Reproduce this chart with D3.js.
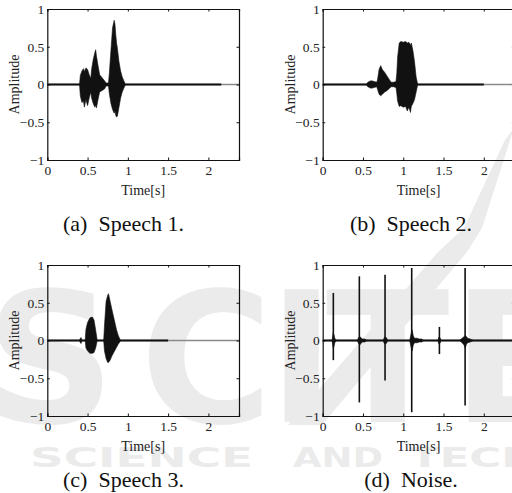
<!DOCTYPE html>
<html>
<head>
<meta charset="utf-8">
<script src="https://cdn.jsdelivr.net/npm/d3@7"></script>
<style>
  html, body { margin: 0; padding: 0; background: #fff; overflow: hidden; }
  svg { display: block; }
</style>
</head>
<body>
<svg id="chart" width="512" height="493"></svg>
<script>
// ---------- DATA ----------
const xTicks = [0, 0.5, 1, 1.5, 2];
const yTicks = [-1, -0.5, 0, 0.5, 1];
const xMax = 2.38;
const captions = ["(a)\u2002Speech 1.", "(b)\u2002Speech 2.", "(c)\u2002Speech 3.", "(d)\u2002Noise."];
const signalEnd = [2.16, 2.0, 1.5, 2.38];

// envelope of each speech waveform: time [s], upper amplitude, lower amplitude
const speech1T  = [0.40, 0.41, 0.43, 0.45, 0.46, 0.48, 0.50, 0.52, 0.54, 0.55, 0.57, 0.59, 0.60, 0.61, 0.63, 0.65, 0.68, 0.71, 0.73, 0.76, 0.77, 0.79, 0.81, 0.83, 0.84, 0.85, 0.86, 0.87, 0.89, 0.91, 0.93, 0.95, 0.97];
const speech1Up = [0.00, 0.12, 0.18, 0.21, 0.17, 0.22, 0.20, 0.13, 0.08, 0.20, 0.33, 0.42, 0.46, 0.38, 0.25, 0.13, 0.09, 0.05, 0.02, 0.02, 0.15, 0.45, 0.75, 0.85, 0.80, 0.66, 0.55, 0.48, 0.30, 0.18, 0.10, 0.05, 0.00];
const speech1Lo = [0.00, -0.15, -0.24, -0.22, -0.30, -0.20, -0.28, -0.18, -0.10, -0.18, -0.25, -0.30, -0.27, -0.31, -0.20, -0.10, -0.08, -0.06, -0.02, -0.02, -0.12, -0.25, -0.33, -0.38, -0.35, -0.41, -0.43, -0.42, -0.30, -0.18, -0.10, -0.05, 0.00];

const speech2T  = [0.54, 0.56, 0.60, 0.64, 0.67, 0.68, 0.70, 0.72, 0.74, 0.77, 0.80, 0.83, 0.85, 0.88, 0.91, 0.92, 0.93, 0.95, 0.97, 1.00, 1.03, 1.05, 1.07, 1.09, 1.10, 1.12, 1.14, 1.16, 1.18];
const speech2Up = [0.00, 0.03, 0.05, 0.04, 0.03, 0.06, 0.20, 0.25, 0.20, 0.16, 0.11, 0.06, 0.03, 0.03, 0.04, 0.15, 0.36, 0.55, 0.57, 0.56, 0.57, 0.55, 0.56, 0.52, 0.55, 0.45, 0.30, 0.10, 0.00];
const speech2Lo = [0.00, -0.03, -0.05, -0.04, -0.03, -0.06, -0.13, -0.15, -0.13, -0.10, -0.08, -0.05, -0.03, -0.03, -0.04, -0.12, -0.22, -0.29, -0.28, -0.30, -0.29, -0.35, -0.30, -0.37, -0.29, -0.25, -0.20, -0.10, 0.00];

const speech3T  = [0.40, 0.41, 0.42, 0.43, 0.47, 0.48, 0.50, 0.53, 0.56, 0.58, 0.60, 0.62, 0.70, 0.71, 0.73, 0.75, 0.76, 0.78, 0.80, 0.83, 0.86, 0.88, 0.90, 0.91];
const speech3Up = [0.00, 0.03, 0.04, 0.00, 0.00, 0.15, 0.24, 0.30, 0.31, 0.27, 0.14, 0.00, 0.00, 0.20, 0.52, 0.60, 0.62, 0.52, 0.42, 0.28, 0.14, 0.07, 0.02, 0.00];
const speech3Lo = [0.00, -0.03, -0.04, 0.00, 0.00, -0.10, -0.14, -0.17, -0.17, -0.16, -0.10, 0.00, 0.00, -0.14, -0.24, -0.29, -0.29, -0.26, -0.21, -0.15, -0.09, -0.05, -0.02, 0.00];

// noise: impulsive clicks plus the small ringing around them
const spikeT  = [0.132, 0.455, 0.774, 1.105, 1.449, 1.768];
const spikeUp = [0.63, 0.85, 0.87, 0.96, 0.18, 0.96];
const spikeLo = [-0.26, -0.82, -0.53, -0.95, -0.18, -0.86];
const noiseT  = [0.115, 0.125, 0.130, 0.140, 0.150, 0.170, 0.43, 0.445, 0.46, 0.475, 0.49, 0.52, 0.55, 0.75, 0.765, 0.78, 0.795, 0.81, 1.08, 1.095, 1.11, 1.125, 1.14, 1.17, 1.20, 1.23, 1.25, 1.43, 1.44, 1.455, 1.47, 1.70, 1.73, 1.755, 1.77, 1.785, 1.80, 1.83, 1.87];
const noiseUp = [0.00, 0.06, 0.10, 0.08, 0.03, 0.00, 0.00, 0.04, 0.05, 0.04, 0.02, 0.02, 0.00, 0.00, 0.04, 0.05, 0.03, 0.00, 0.00, 0.08, 0.14, 0.06, 0.03, 0.03, 0.02, 0.02, 0.00, 0.00, 0.04, 0.04, 0.00, 0.00, 0.03, 0.05, 0.07, 0.05, 0.03, 0.02, 0.00];
const noiseLo = [0.00, -0.06, -0.10, -0.08, -0.03, 0.00, 0.00, -0.04, -0.06, -0.04, -0.02, -0.02, 0.00, 0.00, -0.04, -0.05, -0.03, 0.00, 0.00, -0.08, -0.14, -0.06, -0.03, -0.03, -0.02, -0.02, 0.00, 0.00, -0.04, -0.04, 0.00, 0.00, -0.03, -0.06, -0.10, -0.05, -0.03, -0.02, 0.00];

// ---------- DRAWING ----------
const svg = d3.select("#chart");
const serif = "'Liberation Serif', 'Times New Roman', Times, serif";

// faint publisher watermark in the background
const wm = svg.append("g").attr("fill", "#ebebeb")
  .attr("font-family", "'DejaVu Sans', sans-serif").attr("font-weight", "bold");
[["S", -15], ["C", 140], ["I", 268], ["T", 326], ["E", 452]].forEach(([s, x]) => {
  wm.append("text").attr("x", x).attr("y", 422).attr("font-size", 181).text(s);
});
wm.append("polygon").attr("points", "505,140 514,128 482,228 467,252 322,425 288,425 438,252 464,228");
[["SCIENCE", 30, 223], ["AND", 293, 90], ["TECHNOLOGY", 410, 330]].forEach(([s, x, w]) => {
  wm.append("text").attr("x", x).attr("y", 467)
    .attr("font-size", 27).attr("textLength", w).attr("lengthAdjust", "spacingAndGlyphs")
    .text(s);
});

const pw = 191.7, ph = 151;
const panels = [
  { left: 47.3,  top: 9,   capX: 123.5, capY: 231, T: speech1T, U: speech1Up, L: speech1Lo },
  { left: 322.7, top: 9,   capX: 411,   capY: 231, T: speech2T, U: speech2Up, L: speech2Lo },
  { left: 47.3,  top: 265, capX: 123.5, capY: 487, T: speech3T, U: speech3Up, L: speech3Lo },
  { left: 322.7, top: 265, capX: 411,   capY: 487, T: noiseT,   U: noiseUp,   L: noiseLo, spikes: true }
];

panels.forEach((p, i) => {
  const x = d3.scaleLinear().domain([0, xMax]).range([p.left, p.left + pw]);
  const y = d3.scaleLinear().domain([-1, 1]).range([p.top + ph, p.top]);
  const g = svg.append("g").attr("font-family", serif);

  // zero line: grey over the whole axis, black where the recording lasts
  g.append("line").attr("x1", x(0)).attr("x2", x(xMax)).attr("y1", y(0)).attr("y2", y(0))
    .attr("stroke", "#8a8a8a").attr("stroke-width", 1.6);
  g.append("line").attr("x1", x(0)).attr("x2", x(signalEnd[i])).attr("y1", y(0)).attr("y2", y(0))
    .attr("stroke", "#111").attr("stroke-width", 2);

  const env = p.T.map((t, k) => ({ t, u: p.U[k], l: p.L[k] }));
  g.append("path").datum(env)
    .attr("d", d3.area().x(d => x(d.t)).y0(d => y(d.l)).y1(d => y(d.u)))
    .attr("fill", "#111").attr("stroke", "#111").attr("stroke-width", 0.6);

  if (p.spikes) {
    g.selectAll("line.spike").data(spikeT).join("line").attr("class", "spike")
      .attr("x1", d => x(d)).attr("x2", d => x(d))
      .attr("y1", (d, k) => y(spikeLo[k])).attr("y2", (d, k) => y(spikeUp[k]))
      .attr("stroke", "#111").attr("stroke-width", 1.6);
  }

  // frame with inward ticks on all four sides (MATLAB style)
  const axB = d3.axisBottom(x).tickValues(xTicks).tickSize(-2.5).tickPadding(5)
    .tickFormat(d3.format("~g"));
  const axT = d3.axisTop(x).tickValues(xTicks).tickSize(-2.5).tickFormat("");
  const axL = d3.axisLeft(y).tickValues(yTicks).tickSize(-2.5).tickPadding(3)
    .tickFormat(d => d < 0 ? "\u2212" + d3.format("~g")(-d) : d3.format("~g")(d));
  const axR = d3.axisRight(y).tickValues(yTicks).tickSize(-2.5).tickFormat("");

  const gB = g.append("g").attr("transform", `translate(0,${p.top + ph})`).call(axB);
  const gT = g.append("g").attr("transform", `translate(0,${p.top})`).call(axT);
  const gL = g.append("g").attr("transform", `translate(${p.left},0)`).call(axL);
  const gR = g.append("g").attr("transform", `translate(${p.left + pw},0)`).call(axR);
  [gB, gT, gL, gR].forEach(a => {
    a.attr("font-family", serif);
    a.select(".domain").attr("stroke", "#111").attr("stroke-width", 1.2);
    a.selectAll(".tick line").attr("stroke", "#111").attr("stroke-width", 1);
    a.selectAll("text").attr("font-family", serif).attr("font-size", 13.5).attr("fill", "#222");
  });
  gB.selectAll(".tick text").attr("dy", "0.75em");

  g.append("text").attr("x", p.left + pw / 2).attr("y", p.top + ph + 35)
    .attr("text-anchor", "middle").attr("font-size", 14).attr("fill", "#222")
    .text("Time[s]");
  g.append("text").attr("transform", `translate(${p.left - 28},${p.top + ph / 2}) rotate(-90)`)
    .attr("text-anchor", "middle").attr("font-size", 14).attr("fill", "#222")
    .text("Amplitude");
  g.append("text").attr("x", p.capX).attr("y", p.capY)
    .attr("text-anchor", "middle").attr("font-size", 22).attr("fill", "#111")
    .text(captions[i]);
});
</script>
</body>
</html>
